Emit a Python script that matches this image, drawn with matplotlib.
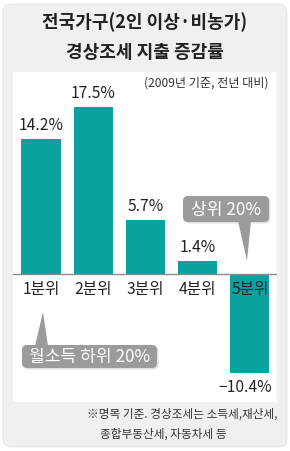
import matplotlib
matplotlib.use("Agg")
import matplotlib.pyplot as plt
from matplotlib.patches import FancyBboxPatch, Polygon

plt.rcParams['font.family'] = ['Noto Sans CJK KR', 'DejaVu Sans']

categories = ['1분위', '2분위', '3분위', '4분위', '5분위']
values = [14.2, 17.5, 5.7, 1.4, -10.4]
value_labels = ['14.2%', '17.5%', '5.7%', '1.4%', '−10.4%']
title_lines = ['전국가구(2인 이상·비농가)', '경상조세 지출 증감률']
subtitle = '(2009년 기준, 전년 대비)'
callout_top = '상위 20%'
callout_bottom = '월소득 하위 20%'
footnote = ['※명목 기준. 경상조세는 소득세,재산세,', '종합부동산세, 자동차세 등']

BAR = '#0aa29e'
W, H = 290, 451
fig = plt.figure(figsize=(W / 100, H / 100), dpi=100)
fig.patch.set_facecolor('white')

def fx(x): return x / W
def fy(y): return 1 - y / H

# background overlay (pixel coords)
bg = fig.add_axes([0, 0, 1, 1], zorder=0)
bg.set_xlim(0, W); bg.set_ylim(H, 0); bg.axis('off')
bg.add_patch(FancyBboxPatch((3, 4), 284, 443, boxstyle='round,pad=0,rounding_size=8',
                            fc='#f0f0f0', ec='#e4e4e4', lw=0.6))
bg.add_patch(plt.Rectangle((13, 72), 264, 330, fc='white', ec='none'))
bg.text(145, 22, title_lines[0], ha='center', va='center', fontsize=13, fontweight='bold', color='#222222')
bg.text(145, 52, title_lines[1], ha='center', va='center', fontsize=13, fontweight='bold', color='#222222')
bg.text(277, 414, footnote[0], ha='right', va='center', fontsize=8.4, color='#333333')
bg.text(100, 434, footnote[1], ha='left', va='center', fontsize=8.4, color='#333333')

# main axes (white area)
ax = fig.add_axes([fx(13), fy(402), fx(277) - fx(13), fy(72) - fy(402)], zorder=1)
ax.set_facecolor('none')
ylo, yhi = -(402 - 274) / 9.54, (274 - 72) / 9.54
ax.set_ylim(ylo, yhi)
ax.set_xlim(-28 / 52.2, (277 - 41) / 52.2)
x = list(range(len(categories)))
bars = ax.bar(x, values, width=0.75, color=BAR, zorder=2)
ax.axhline(0, color='#8a8a8a', lw=1.0, zorder=3)
for s in ax.spines.values():
    s.set_visible(False)
ax.set_xticks([]); ax.set_yticks([])

for i, (v, lab) in enumerate(zip(values, value_labels)):
    if v >= 0:
        ax.annotate(lab, (i, v), xytext=(0, 3.5), textcoords='offset points', ha='center', va='bottom',
                    fontsize=11.3, color='#222222', zorder=4)
    else:
        ax.annotate(lab, (i + 0.43, v), xytext=(0, -4), textcoords='offset points', ha='right', va='top',
                    fontsize=11.3, color='#222222', zorder=4)

for i, c in enumerate(categories):
    ax.annotate(c, (i, 0), xytext=(0, -11), textcoords='offset points', ha='center', va='center',
                fontsize=11.3, color='#222222', zorder=4)

ax.text((268 - 13) / 264, (402 - 83) / 330, subtitle, transform=ax.transAxes, ha='right', va='center',
        fontsize=8.7, color='#333333')

# foreground callouts (pixel coords)
fg = fig.add_axes([0, 0, 1, 1], zorder=2)
fg.set_xlim(0, W); fg.set_ylim(H, 0); fg.axis('off'); fg.patch.set_alpha(0)
GRAY = '#9b9b9b'

def callout(x0, y0, w, h, tri, text):
    fg.add_patch(FancyBboxPatch((x0 + 1.5, y0 + 1.5), w, h, boxstyle='round,pad=0,rounding_size=5',
                                fc='#000000', ec='none', alpha=0.12))
    fg.add_patch(FancyBboxPatch((x0, y0), w, h, boxstyle='round,pad=0,rounding_size=5',
                                fc=GRAY, ec='none'))
    fg.add_patch(Polygon(tri, closed=True, fc=GRAY, ec='none'))
    fg.text(x0 + w / 2, y0 + h / 2 + 0.5, text, ha='center', va='center', fontsize=12.3, color='white')

callout(183, 196, 86, 26, [(238, 221), (251, 221), (247, 261)], callout_top)
callout(22, 345, 135, 23, [(35, 346), (48, 346), (43, 312)], callout_bottom)

fig.savefig('out.png', dpi=100)
